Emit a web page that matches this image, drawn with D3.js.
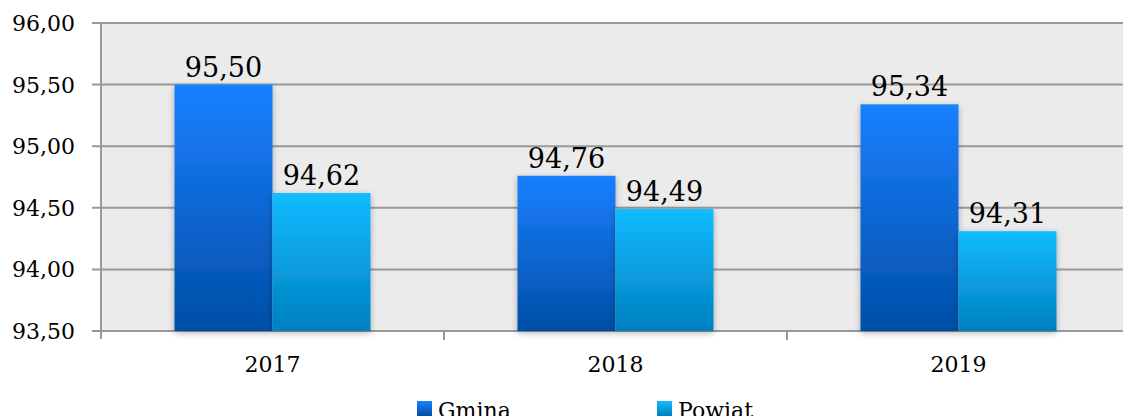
<!DOCTYPE html>
<html lang="pl">
<head>
<meta charset="utf-8">
<title>Gmina / Powiat</title>
<script src="https://cdnjs.cloudflare.com/ajax/libs/d3/7.8.5/d3.min.js"></script>
<style>
  body { margin: 0; background: #fff; }
  svg text { font-family: "DejaVu Serif", serif; fill: #000; }
</style>
</head>
<body>
<script>
// data
const years = ["2017", "2018", "2019"];
const series = ["Gmina", "Powiat"];
const gmina = [95.50, 94.76, 95.34];
const powiat = [94.62, 94.49, 94.31];
const yTicks = [93.5, 94.0, 94.5, 95.0, 95.5, 96.0];

const W = 1123, H = 416;
const m = {left: 101, right: 0, top: 23, bottom: 85};

const svg = d3.select("body").append("svg")
  .attr("width", W).attr("height", H);

const defs = svg.append("defs");
function grad(id, top, bottom) {
  const g = defs.append("linearGradient").attr("id", id)
    .attr("x1", 0).attr("y1", 0).attr("x2", 0).attr("y2", 1);
  g.append("stop").attr("offset", "0%").attr("stop-color", top);
  g.append("stop").attr("offset", "100%").attr("stop-color", bottom);
}
grad("gGmina", "#1a80ff", "#004ea6");
grad("gPowiat", "#12bcff", "#0080c0");
const f = defs.append("filter").attr("id", "shadow")
  .attr("x", "-20%").attr("y", "-5%").attr("width", "140%").attr("height", "115%");
f.append("feDropShadow").attr("dx", 0).attr("dy", 2).attr("stdDeviation", 3)
  .attr("flood-color", "#000").attr("flood-opacity", 0.3);

const x0 = d3.scaleBand().domain(years)
  .range([m.left, m.left + 343 * 3]).paddingInner(0).paddingOuter(0);
const x1 = d3.scaleBand().domain(series)
  .range([0, x0.bandwidth()]).paddingOuter(0.75).paddingInner(0);
const y = d3.scaleLinear().domain([93.5, 96]).range([H - m.bottom, m.top]);

const fmt = v => d3.format(".2f")(v).replace(".", ",");

// plot background
svg.append("rect").attr("x", m.left).attr("y", m.top)
  .attr("width", W - m.left).attr("height", y(93.5) - m.top)
  .attr("fill", "#ebebeb");

// gridlines + y ticks
svg.append("g").selectAll("line").data(yTicks).join("line")
  .attr("x1", m.left - 9).attr("x2", W)
  .attr("y1", d => y(d)).attr("y2", d => y(d))
  .attr("stroke", "#999").attr("stroke-width", 2);

svg.append("g").selectAll("text").data(yTicks).join("text")
  .attr("x", 75).attr("y", d => y(d) + 8)
  .attr("text-anchor", "end").attr("font-size", 22)
  .text(fmt);

// y axis line
svg.append("line").attr("x1", m.left).attr("x2", m.left)
  .attr("y1", m.top).attr("y2", y(93.5) + 8)
  .attr("stroke", "#999").attr("stroke-width", 2);

// x ticks at category boundaries
svg.append("g").selectAll("line").data(years).join("line")
  .attr("x1", d => x0(d) + x0.bandwidth()).attr("x2", d => x0(d) + x0.bandwidth())
  .attr("y1", y(93.5)).attr("y2", y(93.5) + 9)
  .attr("stroke", "#999").attr("stroke-width", 2);

svg.append("g").selectAll("text").data(years).join("text")
  .attr("x", d => x0(d) + x0.bandwidth() / 2).attr("y", 372)
  .attr("text-anchor", "middle").attr("font-size", 22)
  .text(d => d);

// bars
const rows = years.map((yr, i) => ({year: yr, vals: [
  {s: "Gmina", v: gmina[i]}, {s: "Powiat", v: powiat[i]}]}));
const fills = {Gmina: "url(#gGmina)", Powiat: "url(#gPowiat)"};

const grp = svg.append("g").selectAll("g").data(rows).join("g")
  .attr("transform", d => `translate(${x0(d.year)},0)`);

grp.selectAll("rect").data(d => d.vals).join("rect")
  .attr("x", d => x1(d.s)).attr("width", x1.bandwidth())
  .attr("y", d => y(d.v)).attr("height", d => y(93.5) - y(d.v))
  .attr("fill", d => fills[d.s]).attr("filter", "url(#shadow)");

grp.selectAll("text").data(d => d.vals).join("text")
  .attr("x", d => x1(d.s) + x1.bandwidth() / 2)
  .attr("y", d => y(d.v) - 8)
  .attr("text-anchor", "middle").attr("font-size", 27)
  .text(d => fmt(d.v));

// legend
const leg = svg.append("g").selectAll("g").data(series).join("g")
  .attr("transform", (d, i) => `translate(${417 + i * 240},0)`);
leg.append("rect").attr("x", 0).attr("y", 401).attr("width", 15).attr("height", 15)
  .attr("fill", d => fills[d]);
leg.append("text").attr("x", 21).attr("y", 418).attr("font-size", 22)
  .text(d => d);
</script>
</body>
</html>
